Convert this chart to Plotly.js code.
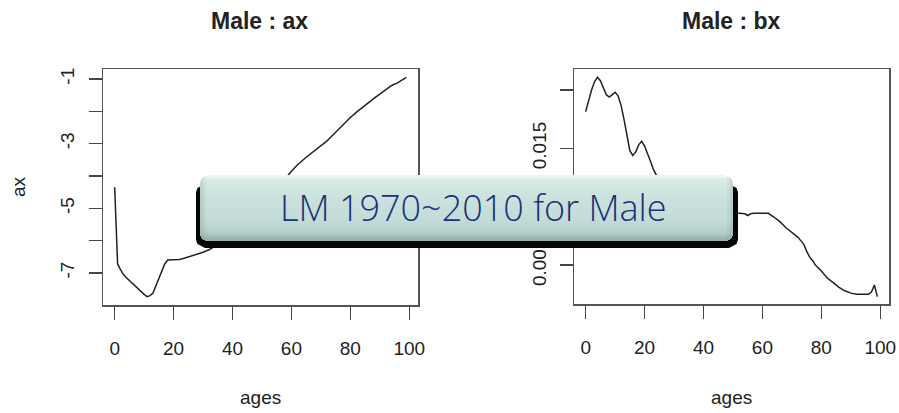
<!DOCTYPE html>
<html>
<head>
<meta charset="utf-8">
<script src="https://cdn.plot.ly/plotly-3.0.1.min.js"></script>
<style>html,body{margin:0;padding:0;background:#fff;}#chart{width:899px;height:413px;}</style>
</head>
<body>
<div id="chart"></div>
<script>
// ---- data ----
const axAges = [0,1,2,3,4,5,6,7,8,9,10,11,12,13,14,15,16,17,18,19,20,21,22,23,24,25,26,27,28,29,30,32,35,38,40,42,45,48,50,52,55,58,60,62,65,68,70,72,74,76,78,80,82,84,86,88,90,92,94,96,98,99];
const axValues = [-4.35,-6.72,-6.9,-7.05,-7.15,-7.24,-7.33,-7.42,-7.5,-7.58,-7.66,-7.73,-7.7,-7.62,-7.4,-7.2,-6.95,-6.72,-6.6,-6.6,-6.6,-6.6,-6.58,-6.56,-6.53,-6.5,-6.48,-6.45,-6.43,-6.4,-6.36,-6.28,-6.12,-5.9,-5.72,-5.55,-5.3,-5.02,-4.85,-4.65,-4.35,-4.08,-3.85,-3.66,-3.42,-3.2,-3.08,-2.92,-2.74,-2.55,-2.37,-2.19,-2.03,-1.88,-1.75,-1.6,-1.47,-1.33,-1.2,-1.12,-1.02,-0.95];
const bxAges = [0,1,2,3,4,5,6,7,8,9,10,11,12,13,14,15,16,17,18,19,20,21,22,23,25,28,30,33,36,40,44,48,52,54,55,56,57,58,60,62,64,66,68,70,72,73,74,75,76,77,78,80,82,84,86,88,90,92,94,96,97,98,99];
const bxValues = [0.01815,0.0191,0.0200,0.0207,0.0211,0.0208,0.0202,0.0196,0.0194,0.0196,0.0198,0.0195,0.0187,0.0175,0.0160,0.0148,0.0144,0.0147,0.0153,0.0156,0.0152,0.0146,0.0139,0.0132,0.0122,0.0112,0.0107,0.0102,0.0099,0.0097,0.0096,0.0095,0.0094,0.0094,0.00925,0.0094,0.00945,0.00946,0.00946,0.00944,0.0091,0.0087,0.0082,0.0078,0.0074,0.0071,0.0068,0.0062,0.0057,0.0054,0.0050,0.0045,0.0039,0.0035,0.0031,0.0028,0.0026,0.0025,0.0025,0.0025,0.0027,0.0033,0.0023];
const xTicks = [0,20,40,60,80,100];
const axTicks = [-7,-6,-5,-4,-3,-2,-1];
const axTickText = ['-7','','-5','','-3','','-1'];
const bxTicks = [0.005,0.010,0.015,0.020];
const bxTickText = ['0.005','','0.015',''];
const titles = ['Male : ax','Male : bx'];
const xLabel = 'ages';
const yLabels = ['ax','bx'];
const bannerText = 'LM 1970~2010 for Male';

// ---- layout helpers (pixel -> paper) ----
const W = 899, H = 413;
const px = x => x / W;
const py = y => 1 - y / H;
const FONT = 'Liberation Sans, Arial, sans-serif';
const toPath = pts => 'M' + pts.map(p => px(p[0]).toFixed(5) + ',' + py(p[1]).toFixed(5)).join(' L') + ' Z';

function roundedInset(y0, y1, r, y) {
  if (y < y0 + r) { const d = y0 + r - y; return r - Math.sqrt(Math.max(0, r*r - d*d)); }
  if (y > y1 - r) { const d = y - (y1 - r); return r - Math.sqrt(Math.max(0, r*r - d*d)); }
  return 0;
}
// region of a rounded rect between rows s0..s1, optionally limited to columns [cx0,cx1]
function roundedRegion(x0, x1, y0, y1, r, s0, s1, cx0, cx1) {
  const n = 16, L = [], R = [];
  for (let i = 0; i <= n; i++) {
    const y = s0 + (s1 - s0) * i / n, ins = roundedInset(y0, y1, r, y);
    let a = x0 + ins, b = x1 - ins;
    if (cx0 !== undefined) a = Math.max(a, cx0);
    if (cx1 !== undefined) b = Math.min(b, cx1);
    if (b < a) b = a;
    L.push([a, y]); R.push([b, y]);
  }
  return toPath(L.concat(R.reverse()));
}
function lerpColor(stops, t) {
  for (let i = 0; i < stops.length - 1; i++) {
    const a = stops[i], b = stops[i+1];
    if (t >= a[0] && t <= b[0]) {
      const u = (t - a[0]) / (b[0] - a[0]);
      const c = [0,1,2].map(k => Math.round(a[1][k] + (b[1][k] - a[1][k]) * u));
      return 'rgb(' + c.join(',') + ')';
    }
  }
  const l = stops[stops.length-1][1]; return 'rgb(' + l.join(',') + ')';
}

const shapes = [];
const pathShape = (path, color) => ({type:'path', xref:'paper', yref:'paper', layer:'above', line:{width:0}, fillcolor:color, path:path});
// shadow
shapes.push(pathShape(roundedRegion(196, 738, 184, 248, 9, 184, 248), '#050505'));
// gradient body: each band is painted from its top down to the bottom, so no seams appear
const bx0 = 200, bx1 = 733, by0 = 175, by1 = 241, rad = 9;
const stops = [[0,[238,247,245]],[0.08,[218,236,232]],[0.3,[204,227,222]],[0.7,[194,219,214]],[0.88,[180,206,201]],[1,[142,170,164]]];
const rows = by1 - by0;
for (let i = 0; i < rows; i += 2) {
  shapes.push(pathShape(roundedRegion(bx0, bx1, by0, by1, rad, by0 + i, by1), lerpColor(stops, (i + 1) / rows)));
}
// side bevel shading
shapes.push(pathShape(roundedRegion(bx0, bx1, by0, by1, rad, by0 + 1, by1 - 1, bx0, bx0 + 3), 'rgba(40,70,65,0.12)'));
shapes.push(pathShape(roundedRegion(bx0, bx1, by0, by1, rad, by0 + 1, by1 - 1, bx0 + 3, bx0 + 6), 'rgba(40,70,65,0.05)'));
shapes.push(pathShape(roundedRegion(bx0, bx1, by0, by1, rad, by0 + 1, by1 - 1, bx1 - 3, bx1), 'rgba(40,70,65,0.12)'));
shapes.push(pathShape(roundedRegion(bx0, bx1, by0, by1, rad, by0 + 1, by1 - 1, bx1 - 6, bx1 - 3), 'rgba(40,70,65,0.05)'));

const axisCommon = {
  showgrid:false, zeroline:false, showline:true, mirror:true,
  linecolor:'#555', linewidth:1.5, ticks:'outside', ticklen:13, tickwidth:1.5,
  tickcolor:'#444', tickfont:{family:FONT, size:19, color:'#222'}, fixedrange:true
};

const data = [
  {x: axAges, y: axValues, type:'scatter', mode:'lines', line:{color:'#222', width:1.5}, xaxis:'x', yaxis:'y', hoverinfo:'skip'},
  {x: bxAges, y: bxValues, type:'scatter', mode:'lines', line:{color:'#222', width:1.5}, xaxis:'x2', yaxis:'y2', hoverinfo:'skip'}
];

const layout = {
  width: W, height: H, margin:{l:0,r:0,t:0,b:0}, showlegend:false,
  paper_bgcolor:'#fff', plot_bgcolor:'#fff',
  xaxis: Object.assign({}, axisCommon, {domain:[px(103), px(418)], range:[-3.96,102.96], tickvals:xTicks, anchor:'y', ticklabelstandoff:13}),
  yaxis: Object.assign({}, axisCommon, {domain:[py(305), py(69)], range:[-7.99,-0.69], tickvals:axTicks, ticktext:axTickText, tickangle:-90, anchor:'x', ticklabelstandoff:7}),
  xaxis2: Object.assign({}, axisCommon, {domain:[px(574), px(889)], range:[-3.96,102.96], tickvals:xTicks, anchor:'y2', ticklabelstandoff:13}),
  yaxis2: Object.assign({}, axisCommon, {domain:[py(304), py(69)], range:[0.00167,0.0218], tickvals:bxTicks, ticktext:bxTickText, tickangle:-90, anchor:'x2', ticklabelstandoff:6}),
  shapes: shapes,
  annotations: [
    {text:'<b>'+titles[0]+'</b>', xref:'paper', yref:'paper', x:px(259), y:py(21), showarrow:false, xanchor:'center', yanchor:'middle', font:{family:FONT, size:23, color:'#222'}},
    {text:'<b>'+titles[1]+'</b>', xref:'paper', yref:'paper', x:px(731), y:py(21), showarrow:false, xanchor:'center', yanchor:'middle', font:{family:FONT, size:23, color:'#222'}},
    {text:xLabel, xref:'paper', yref:'paper', x:px(260), y:py(397), showarrow:false, xanchor:'center', yanchor:'middle', font:{family:FONT, size:19, color:'#222'}},
    {text:xLabel, xref:'paper', yref:'paper', x:px(731), y:py(397), showarrow:false, xanchor:'center', yanchor:'middle', font:{family:FONT, size:19, color:'#222'}},
    {text:yLabels[0], xref:'paper', yref:'paper', x:px(18), y:py(187), showarrow:false, textangle:-90, xanchor:'center', yanchor:'middle', font:{family:FONT, size:19, color:'#222'}},
    {text:bannerText, xref:'paper', yref:'paper', x:px(473), y:py(207), showarrow:false, xanchor:'center', yanchor:'middle', font:{family:'Open Sans, sans-serif', size:36, color:'#18317a', weight:300}}
  ]
};

Plotly.newPlot('chart', data, layout, {staticPlot:true, displayModeBar:false});
</script>
</body>
</html>
